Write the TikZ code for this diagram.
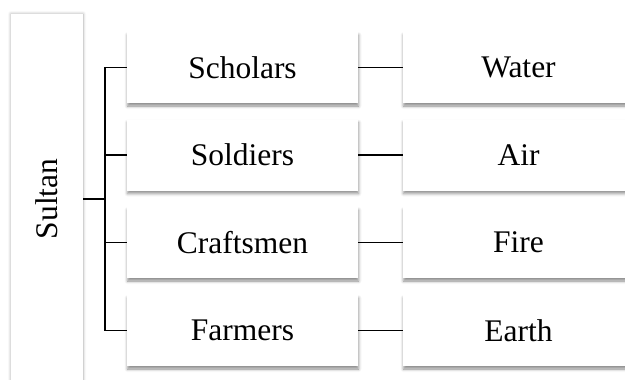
\documentclass[tikz,border=0pt]{standalone}
\usepackage{fontspec}
\setmainfont{Liberation Serif}
\usetikzlibrary{shadows.blur}
\begin{document}
\begin{tikzpicture}[x=1pt,y=-1pt,
  box/.style={fill=white, minimum width=231pt, minimum height=71pt, inner sep=0pt,
    font=\fontsize{31.5}{36}\selectfont,
    blur shadow={shadow xshift=0.5pt, shadow yshift=-3pt, shadow blur radius=3pt, shadow opacity=45}},
  sidebox/.style={fill=white, minimum width=370pt, minimum height=72pt, inner sep=0pt,
    font=\fontsize{31.5}{36}\selectfont, rotate=90,
    blur shadow={shadow xshift=0pt, shadow yshift=0pt, shadow blur radius=3pt, shadow opacity=35}},
  link/.style={line width=1.4pt},
  trunk/.style={line width=2.6pt}]
\useasboundingbox (0,0) rectangle (625,380);
\node[sidebox] (sultan) at (47,199) {Sultan};
\node[box] (scholars) at (242.5,67.5) {Scholars};
\node[box] (soldiers) at (242.5,155) {Soldiers};
\node[box] (craftsmen) at (242.5,242.5) {Craftsmen};
\node[box] (farmers) at (242.5,330.5) {Farmers};
\node[box] (water) at (518.5,67.5) {Water};
\node[box] (air) at (518.5,155) {Air};
\node[box] (fire) at (518.5,242.5) {Fire};
\node[box] (earth) at (518.5,330.5) {Earth};
\coordinate (bx) at (105,199);
\draw[trunk] (sultan.south) -- (bx);
\draw[link] (scholars.west) -| (bx |- farmers.west) -- (farmers.west);
\draw[link] (soldiers.west) -- (soldiers.west -| bx);
\draw[link] (craftsmen.west) -- (craftsmen.west -| bx);
\draw[link] (scholars) -- (water);
\draw[link] (soldiers) -- (air);
\draw[link] (craftsmen) -- (fire);
\draw[link] (farmers) -- (earth);
\end{tikzpicture}
\end{document}
